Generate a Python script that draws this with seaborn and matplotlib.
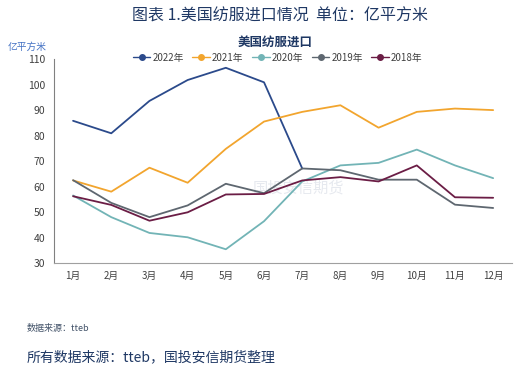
import numpy as np
import pandas as pd
import matplotlib
matplotlib.use("Agg")
import matplotlib.pyplot as plt
from matplotlib.lines import Line2D
import seaborn as sns

months = ["1月", "2月", "3月", "4月", "5月", "6月", "7月", "8月", "9月", "10月", "11月", "12月"]
years = ["2022年", "2021年", "2020年", "2019年", "2018年"]
v2022 = [85.8, 80.9, 93.6, 101.8, 106.6, 100.9, 67.1, None, None, None, None, None]
v2021 = [62.4, 58.0, 67.4, 61.5, 74.8, 85.5, 89.3, 91.9, 83.1, 89.3, 90.6, 90.0]
v2020 = [56.5, 48.0, 41.8, 40.1, 35.4, 46.4, 62.0, 68.3, 69.3, 74.5, 68.3, 63.3]
v2019 = [62.5, 53.6, 48.0, 52.6, 61.1, 57.4, 67.1, 66.4, 62.7, 62.7, 52.9, 51.6]
v2018 = [56.2, 52.8, 46.6, 49.9, 56.9, 57.1, 62.4, 63.7, 62.0, 68.3, 55.8, 55.6]
colors = ["#2b4a8b", "#f2a52e", "#72b4b6", "#5e6770", "#6b1d45"]

sns.set_style("white")
plt.rcParams['font.family'] = ['Noto Sans CJK SC', 'DejaVu Sans']

rows = []
for yr, vals in zip(years, [v2022, v2021, v2020, v2019, v2018]):
    for i, v in enumerate(vals):
        if v is not None:
            rows.append({"month": i, "year": yr, "value": v})
df = pd.DataFrame(rows)

fig = plt.figure(figsize=(5.19, 3.79), dpi=100)
ax = fig.add_axes([0.104, 0.306, 0.883, 0.538])

sns.lineplot(data=df, x="month", y="value", hue="year", hue_order=years,
             palette=colors, linewidth=1.3, legend=False, ax=ax)

ax.set_xlim(-0.5, 11.5)
ax.set_ylim(30, 110)
ax.set_yticks(range(30, 111, 10))
ax.set_xticks(range(12))
ax.set_xticklabels(months)
ax.set_xticks(np.arange(-0.5, 12, 1), minor=True)
ax.tick_params(axis="x", which="major", length=0, pad=6, labelsize=7, colors="#404040")
ax.tick_params(axis="x", which="minor", length=3, color="#a0a0a0")
ax.tick_params(axis="y", length=3, labelsize=7.5, colors="#404040", color="#808080")
ax.set_xlabel("")
ax.set_ylabel("")
for s in ["top", "right"]:
    ax.spines[s].set_visible(False)
ax.spines["left"].set_color("#808080")
ax.spines["bottom"].set_color("#a0a0a0")
ax.grid(False)

# watermark
ax.text(5.9, 59.5, "国投安信期货", fontsize=11, color="#e6e9ef", ha="center", va="center", zorder=0)

handles = [Line2D([0], [0], color=c, marker="o", markersize=4, linewidth=1) for c in colors]
fig.legend(handles, years, loc="center", bbox_to_anchor=(0.535, 0.848), ncol=5, frameon=False,
           fontsize=7, handlelength=1.8, handletextpad=0.2, columnspacing=0.9,
           labelcolor="#404040")

fig.text(0.54, 0.958, "图表 1.美国纺服进口情况  单位：亿平方米", fontsize=11.5, color="#1f3864",
         ha="center", va="center")
fig.text(0.53, 0.889, "美国纺服进口", fontsize=9, fontweight="bold", color="#1f3864",
         ha="center", va="center")
fig.text(0.015, 0.876, "亿平方米", fontsize=7, color="#4472c4", ha="left", va="center")
fig.text(0.052, 0.132, "数据来源：tteb", fontsize=6.5, color="#44546a", ha="left", va="center")
fig.text(0.052, 0.057, "所有数据来源：tteb，国投安信期货整理", fontsize=10, color="#1f3864",
         style="italic", ha="left", va="center")

fig.savefig("out.png", dpi=100)
